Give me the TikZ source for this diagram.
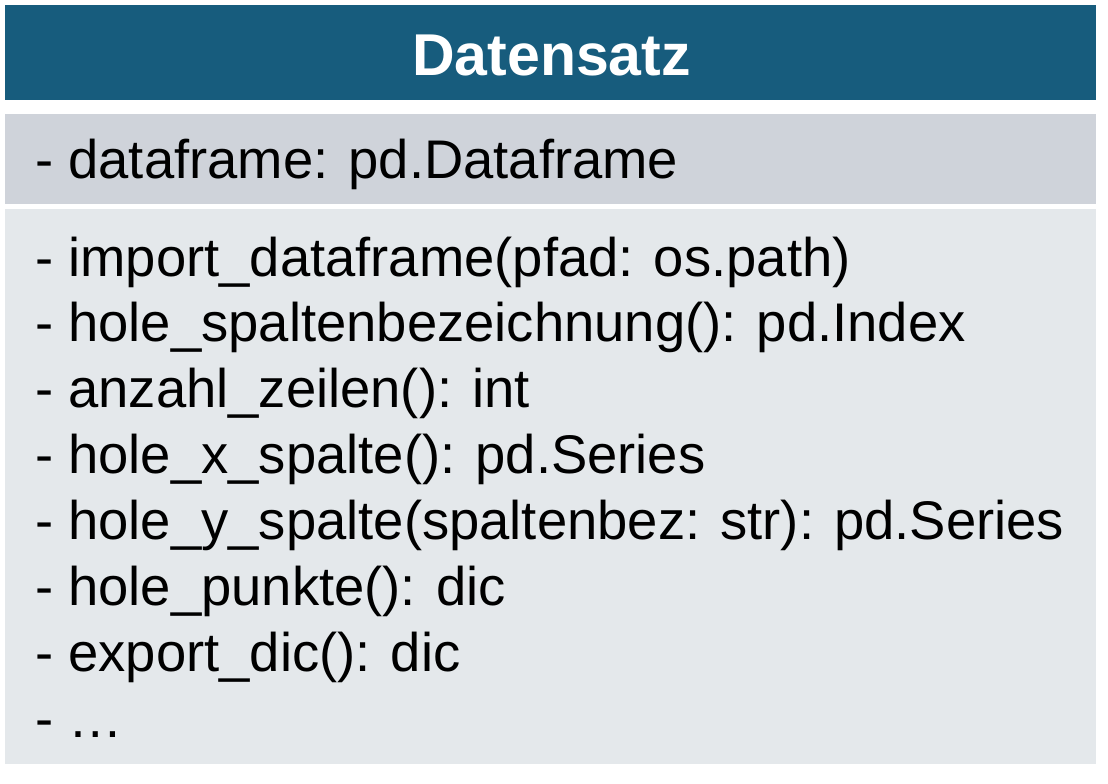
\documentclass[tikz,border=0pt]{standalone}
\usepackage{fontspec}
\setmainfont{Liberation Sans}
\definecolor{titleblue}{HTML}{175C7D}
\definecolor{attrgray}{HTML}{CFD3DA}
\definecolor{opgray}{HTML}{E4E8EB}
\begin{document}
\begin{tikzpicture}[x=1pt,y=-1pt,
  band/.style={rectangle, inner sep=0pt, outer sep=0pt, minimum width=1091pt},
  member/.style={anchor=base west, inner sep=0pt, font=\fontsize{54.4}{66}\selectfont, text=black},
  titletext/.style={anchor=base, inner sep=0pt, font=\bfseries\fontsize{59}{70}\selectfont, text=white}]
\useasboundingbox (0,0) rectangle (1108,784);
\fill[white] (0,0) rectangle (1108,784);
\node[band, fill=titleblue, minimum height=95pt] (titlebox) at (550.5,52.5) {};
\node[band, fill=attrgray, minimum height=90pt] (attrbox) at (550.5,159) {};
\node[band, fill=opgray, minimum height=555pt] (opbox) at (550.5,486.5) {};
\node[titletext] (title) at (551.5,75) {Datensatz};
\node[member] (a1) at (35,178) {- dataframe: pd.Dataframe};
\node[member] (m1) at (35,276) {- import\_dataframe(pfad: os.path)};
\node[member] (m2) at (35,341.85) {- hole\_spaltenbezeichnung(): pd.Index};
\node[member] (m3) at (35,407.7) {- anzahl\_zeilen(): int};
\node[member] (m4) at (35,473.55) {- hole\_x\_spalte(): pd.Series};
\node[member] (m5) at (35,539.4) {- hole\_y\_spalte(spaltenbez: str): pd.Series};
\node[member] (m6) at (35,605.25) {- hole\_punkte(): dic};
\node[member] (m7) at (35,671.1) {- export\_dic(): dic};
\node[member] (m8) at (35,737) {- …};
\end{tikzpicture}
\end{document}
